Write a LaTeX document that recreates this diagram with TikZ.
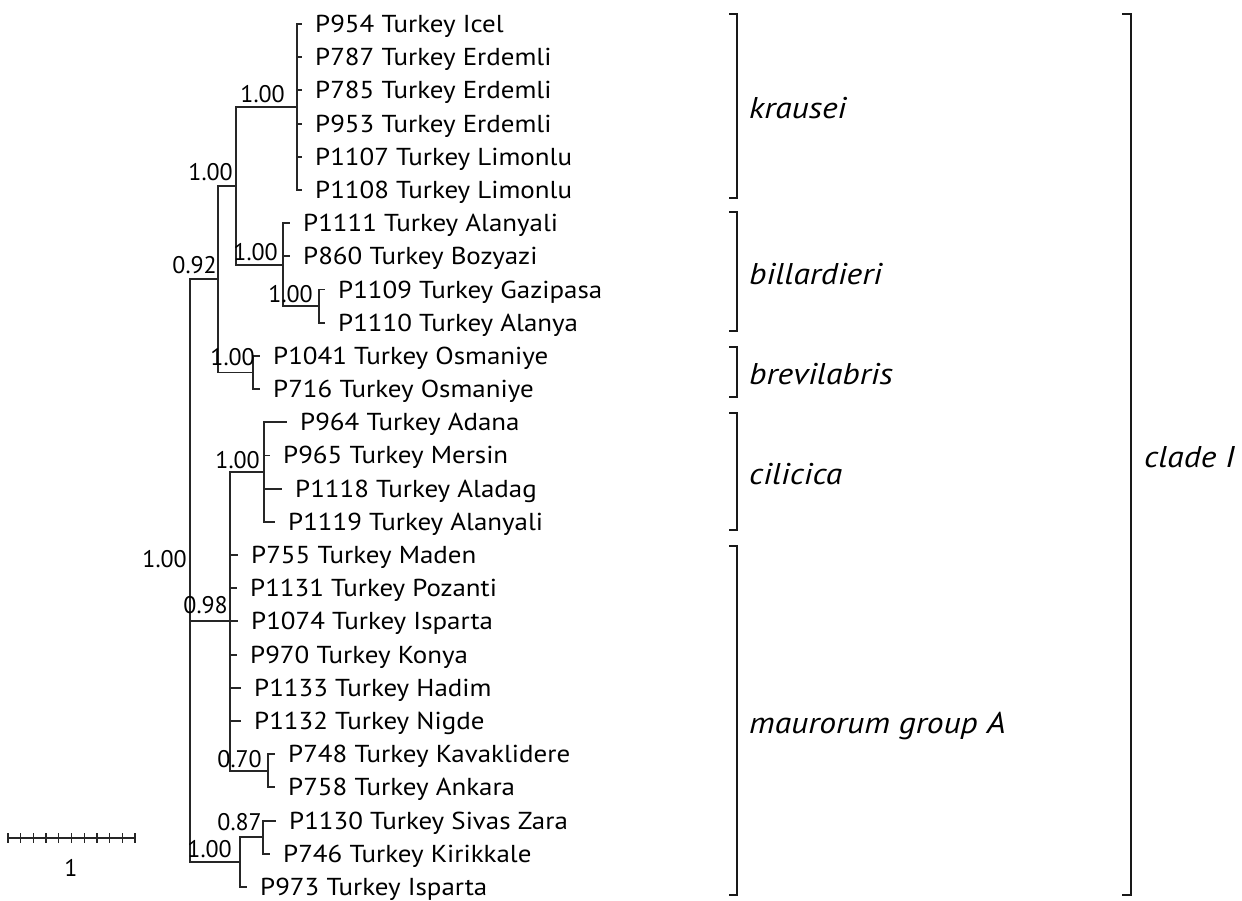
\documentclass[tikz,border=0pt]{standalone}
\usepackage{fontspec}
\setmainfont{PT Sans}
\newfontfamily\taxonfont{PT Sans}[FakeStretch=1.1]
\newfontfamily\groupfont{PT Sans}[FakeStretch=1.12]
\usetikzlibrary{calc}
\begin{document}
\begin{tikzpicture}[x=1pt,y=-1pt,
  branch/.style={line width=1.9pt, color=black!85},
  taxon/.style={anchor=base west, inner sep=0pt, font=\taxonfont\fontsize{24.5}{29}\selectfont},
  support/.style={anchor=base east, inner sep=0pt, font=\fontsize{24}{29}\selectfont},
  group/.style={anchor=base west, inner sep=0pt, font=\groupfont\fontsize{30}{36}\selectfont\itshape},
  bracketline/.style={line width=2.3pt, color=black!90},
  scalebar/.style={line width=1.6pt, color=black!85}]
\useasboundingbox (0,0) rectangle (1242,900);

% internal nodes of the tree
\coordinate (R)  at (190, 570.6);
\coordinate (A)  at (218, 279.1);
\coordinate (B1) at (236, 185.8);
\coordinate (K)  at (297, 107.0);
\coordinate (Bi) at (283, 264.6);
\coordinate (Bs) at (319, 306.1);
\coordinate (Br) at (253, 372.5);
\coordinate (C)  at (230, 621.4);
\coordinate (Ci) at (264, 472.1);
\coordinate (D)  at (268, 770.8);
\coordinate (E)  at (240, 862.1);
\coordinate (F)  at (263, 837.2);

% internal branches
\foreach \p/\c in {R/A, R/C, R/E, A/B1, A/Br, B1/K, B1/Bi, Bi/Bs, C/Ci, C/D, E/F}
  \draw[branch] (\p) |- (\c);

% terminal branches and taxon labels
\foreach \i/\p/\e/\t in {
  0/K/302/{P954 Turkey Icel},
  1/K/302/{P787 Turkey Erdemli},
  2/K/302/{P785 Turkey Erdemli},
  3/K/302/{P953 Turkey Erdemli},
  4/K/302/{P1107 Turkey Limonlu},
  5/K/302/{P1108 Turkey Limonlu},
  6/Bi/290/{P1111 Turkey Alanyali},
  7/Bi/290/{P860 Turkey Bozyazi},
  8/Bs/325/{P1109 Turkey Gazipasa},
  9/Bs/325/{P1110 Turkey Alanya},
  10/Br/260/{P1041 Turkey Osmaniye},
  11/Br/260/{P716 Turkey Osmaniye},
  12/Ci/287/{P964 Turkey Adana},
  13/Ci/270/{P965 Turkey Mersin},
  14/Ci/282/{P1118 Turkey Aladag},
  15/Ci/275/{P1119 Turkey Alanyali},
  16/C/238/{P755 Turkey Maden},
  17/C/237/{P1131 Turkey Pozanti},
  18/C/238/{P1074 Turkey Isparta},
  19/C/237/{P970 Turkey Konya},
  20/C/241/{P1133 Turkey Hadim},
  21/C/241/{P1132 Turkey Nigde},
  22/D/275/{P748 Turkey Kavaklidere},
  23/D/275/{P758 Turkey Ankara},
  24/F/276/{P1130 Turkey Sivas Zara},
  25/F/270/{P746 Turkey Kirikkale},
  26/E/247/{P973 Turkey Isparta}} {
  \coordinate (e\i) at (\e, {24+33.19*\i});
  \draw[branch] (\p) |- (e\i);
  \node[taxon] (t\i) at ([xshift=13pt, yshift=-8.5pt]e\i) {\t};
}

% posterior support values
\foreach \n/\dx/\dy/\v in {K/-12/5/1.00, B1/-3/5.8/1.00, A/-1/6.1/0.92, Bi/-5/4.6/1.00,
  Bs/-6/4.1/1.00, Br/2/7.5/1.00, Ci/-4/4/1.00, R/-3/3.6/1.00, C/-2/8.4/0.98,
  D/-6/3.8/0.70, F/-1/7.2/0.87, E/-8/5.1/1.00}
  \node[support] (s\n) at ([xshift=\dx pt, yshift=\dy pt]\n) {\v};

% group brackets
\draw[bracketline] (729,14)  -- (737,14)  -- (737,198) -- (729,198);
\draw[bracketline] (729,212) -- (737,212) -- (737,331) -- (729,331);
\draw[bracketline] (729,347) -- (737,347) -- (737,397) -- (729,397);
\draw[bracketline] (729,413) -- (737,413) -- (737,530) -- (729,530);
\draw[bracketline] (729,546) -- (737,546) -- (737,895) -- (729,895);
\draw[bracketline] (1122,14) -- (1131,14) -- (1131,895) -- (1122,895);

\node[group] (gK)  at (749, 118.5) {krausei};
\node[group] (gBi) at (749, 284) {billardieri};
\node[group] (gBr) at (749, 384.5) {brevilabris};
\node[group] (gCi) at (749, 484) {cilicica};
\node[group] (gM)  at (749, 733) {maurorum group A};
\node[group] (gC)  at (1144, 467) {clade I};

% scale bar
\coordinate (sbL) at (8, 838);
\coordinate (sbR) at (135, 838);
\draw[scalebar] (sbL) -- (sbR);
\foreach \k in {0,...,10}
  \draw[scalebar, line width=1.2pt] ($(sbL)!\k/10!(sbR)+(0,-5)$) -- ++(0,10);
\node[support, anchor=base] (sbT) at (71, 876) {1};
\end{tikzpicture}
\end{document}
